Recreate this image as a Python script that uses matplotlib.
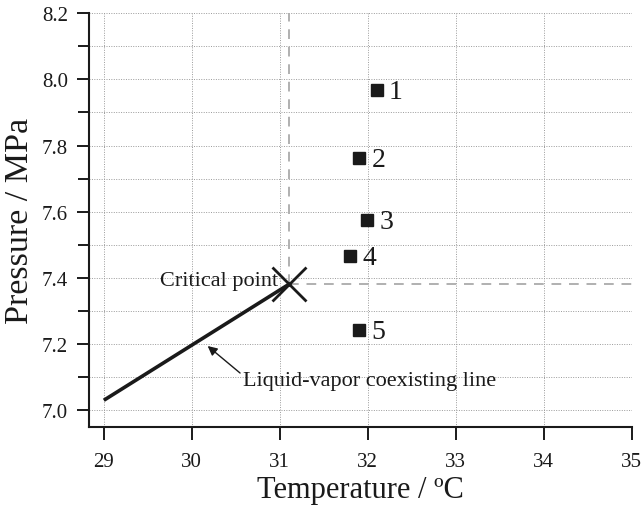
import matplotlib
matplotlib.use("Agg")
import matplotlib.pyplot as plt
from matplotlib.ticker import MultipleLocator

# measured state points (temperature in C, pressure in MPa)
point_labels = ["1", "2", "3", "4", "5"]
point_temp = [32.10, 31.90, 31.99, 31.80, 31.90]
point_pres = [7.967, 7.762, 7.575, 7.466, 7.242]

# liquid-vapor coexisting line up to the critical point
line_temp = [29.0, 31.1]
line_pres = [7.03, 7.38]

crit_temp = 31.1
crit_pres = 7.38

x_ticks = [29, 30, 31, 32, 33, 34, 35]
y_ticks = [7.0, 7.2, 7.4, 7.6, 7.8, 8.0, 8.2]

plt.rcParams["font.family"] = ["Liberation Serif", "DejaVu Serif"]
ink = "#1a1a1a"

fig = plt.figure(figsize=(6.44, 5.06), dpi=100)
ax = fig.add_axes([0.138, 0.154, 0.843, 0.818])

ax.set_xlim(28.83, 35)
ax.set_ylim(6.949, 8.2)

ax.set_xticks(x_ticks)
ax.set_yticks(y_ticks)
ax.set_yticklabels([f"{v:.1f}" for v in y_ticks])
ax.yaxis.set_minor_locator(MultipleLocator(0.1))

ax.grid(True, which="both", linestyle=(0, (1, 1.5)), color="#9a9a9a", linewidth=0.7)
ax.set_axisbelow(True)

for side in ("top", "right"):
    ax.spines[side].set_visible(False)
for side in ("left", "bottom"):
    ax.spines[side].set_linewidth(1.5)
    ax.spines[side].set_color(ink)

ax.tick_params(axis="both", which="major", direction="out", length=9, width=1.4,
               color=ink, labelsize=15, labelcolor=ink, pad=6)
ax.tick_params(axis="x", which="major", pad=9)
ax.tick_params(axis="y", which="minor", direction="out", length=8, width=1.4, color=ink)
ax.tick_params(axis="x", which="minor", length=0)

# critical point guide lines
ax.plot([crit_temp, crit_temp], [crit_pres, 8.2], color="#b0b0b0", linestyle=(0, (5, 4)),
        linewidth=1.4, clip_on=False)
ax.plot([crit_temp, 35], [crit_pres, crit_pres], color="#b0b0b0", linestyle=(0, (5, 4)),
        linewidth=1.4, clip_on=False)

ax.plot(line_temp, line_pres, color=ink, linewidth=2.6, solid_capstyle="butt")
ax.plot([crit_temp], [crit_pres], marker="x", markersize=24, markeredgewidth=2.0,
        color=ink, linestyle="none")

ax.plot(point_temp, point_pres, marker="s", markersize=8, color=ink, linestyle="none")
for lab, tx, py in zip(point_labels, point_temp, point_pres):
    ax.annotate(lab, (tx, py), xytext=(9, -1), textcoords="offset points",
                fontsize=20, color=ink, ha="left", va="center")

ax.text(30.98, 7.393, "Critical point", fontsize=16, color=ink, ha="right", va="center")
ax.annotate("Liquid-vapor coexisting line", xy=(30.18, 7.194), xytext=(30.58, 7.091),
            fontsize=16, color=ink, ha="left", va="center",
            arrowprops=dict(arrowstyle="-|>", color=ink, linewidth=1.0,
                            mutation_scale=14, shrinkA=0, shrinkB=0,
                            relpos=(0.0, 0.75)))

ax.set_xlabel("Temperature / ºC", fontsize=22, color=ink, labelpad=3)
ax.set_ylabel("Pressure / MPa", fontsize=24.5, color=ink, labelpad=5)

fig.savefig("out.png", dpi=100)
